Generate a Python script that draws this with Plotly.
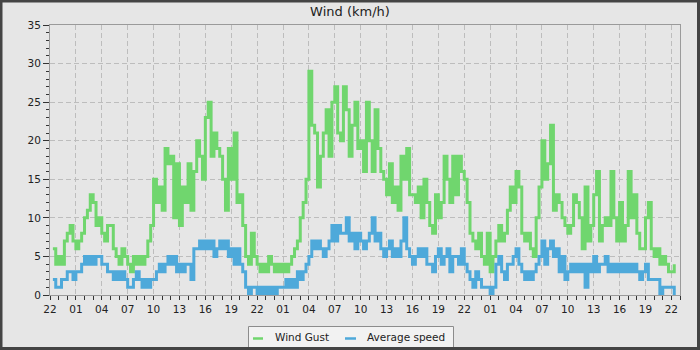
import pandas as pd
import plotly.graph_objects as go

# ---------------- data (km/h), 20-minute readings from 22:20 ----------------
start_time = "2024-01-01 22:20"
step = "20min"

gust = [
    6, 4,            # 22h
    5, 4, 7,         # 23
    8, 9, 7,         # 00
    6, 7, 8,         # 01
    10, 11, 13,      # 02
    12, 9, 10,       # 03
    8, 7, 9,         # 04
    9, 6, 5,         # 05
    4, 6, 5,         # 06
    4, 3, 5,         # 07
    4, 5, 4,         # 08
    5, 7, 9,         # 09
    15, 12, 14,      # 10
    11, 19, 17,      # 11
    18, 10, 17,      # 12
    9, 14, 12,       # 13
    17, 11, 16,      # 14
    20, 18, 15,      # 15
    23, 25, 18,      # 16
    21, 19, 18,      # 17
    15, 11, 19,      # 18
    15, 21, 12,      # 19
    13, 9, 5,        # 20
    4, 8, 5,         # 21
    4, 3, 4,         # 22
    3, 5, 4,         # 23
    3, 4, 3,         # 00
    4, 3, 4,         # 01
    5, 6, 7,         # 02
    10, 12, 15,      # 03
    29, 22, 21,      # 04
    14, 18, 21,      # 05
    24, 18, 25,      # 06
    27, 21, 20,      # 07
    27, 24, 18,      # 08
    22, 25, 19,      # 09
    20, 16, 25,      # 10
    20, 16, 24,      # 11
    19, 16, 15,      # 12
    13, 17, 12,      # 13
    14, 11, 18,      # 14
    15, 19, 13,      # 15
    13, 12, 14,      # 16
    10, 15, 12,      # 17
    9, 8, 13,        # 18
    10, 12, 18,      # 19
    15, 12, 18,      # 20
    13, 18, 16,      # 21
    15, 12, 8,       # 22
    7, 6, 8,         # 23
    5, 4, 8,         # 00
    3, 5, 7,         # 01
    9, 7, 8,         # 02
    11, 14, 12,      # 03
    16, 14, 8,       # 04
    7, 8, 6,         # 05
    5, 10, 14,       # 06
    20, 15, 17,      # 07
    22, 11, 13,      # 08
    12, 10, 9,       # 09
    8, 9, 13,        # 10
    12, 10, 6,       # 11
    14, 7, 9,        # 12
    13, 16, 7,       # 13
    9, 10, 9,        # 14
    16, 10, 7,       # 15
    12, 7, 9,        # 16
    16, 10, 13,      # 17
    8, 6, 6,         # 18
    10, 12, 6,       # 19
    5, 6, 4,         # 20
    5, 4, 3,         # 21
    3, 4,            # 22
]

average = [
    2, 1,            # 22h
    1, 2, 2,         # 23
    3, 3, 2,         # 00
    3, 3, 4,         # 01
    5, 4, 5,         # 02
    4, 5, 5,         # 03
    4, 4, 3,         # 04
    3, 2, 3,         # 05
    2, 3, 2,         # 06
    1, 1, 2,         # 07
    3, 2, 1,         # 08
    2, 1, 2,         # 09
    2, 3, 4,         # 10
    3, 4, 5,         # 11
    4, 5, 3,         # 12
    4, 3, 4,         # 13
    4, 2, 6,         # 14
    6, 7, 6,         # 15
    7, 6, 7,         # 16
    5, 6, 7,         # 17
    6, 7, 5,         # 18
    6, 4, 6,         # 19
    4, 3, 1,         # 20
    0, 1, 1,         # 21
    0, 1, 0,         # 22
    1, 0, 1,         # 23
    0, 1, 1,         # 00
    1, 2, 1,         # 01
    2, 1, 3,         # 02
    2, 3, 4,         # 03
    5, 7, 6,         # 04
    7, 6, 5,         # 05
    6, 7, 9,         # 06
    7, 9, 8,         # 07
    8, 10, 7,        # 08
    8, 6, 8,         # 09
    7, 6, 7,         # 10
    8, 10, 7,        # 11
    8, 6, 5,         # 12
    6, 7, 5,         # 13
    6, 5, 7,         # 14
    10, 6, 5,        # 15
    4, 5, 6,         # 16
    5, 6, 4,         # 17
    4, 3, 5,         # 18
    6, 4, 5,         # 19
    6, 3, 5,         # 20
    5, 4, 6,         # 21
    4, 3, 2,         # 22
    1, 3, 2,         # 23
    1, 1, 1,         # 00
    0, 1, 4,         # 01
    5, 3, 2,         # 02
    4, 4, 5,         # 03
    6, 4, 3,         # 04
    2, 3, 2,         # 05
    3, 4, 5,         # 06
    7, 4, 6,         # 07
    7, 5, 6,         # 08
    3, 5, 2,         # 09
    3, 4, 3,         # 10
    4, 3, 4,         # 11
    1, 4, 3,         # 12
    5, 3, 4,         # 13
    4, 5, 3,         # 14
    4, 3, 4,         # 15
    3, 4, 3,         # 16
    4, 3, 4,         # 17
    3, 2, 3,         # 18
    4, 2, 2,         # 19
    2, 2, 0,         # 20
    1, 1, 1,         # 21
    1, 0,            # 22
]

series_names = ["Wind Gust", "Average speed"]
title_text = "Wind (km/h)"
x_start = "2024-01-01 22:00"
x_end = "2024-01-04 23:00"
y_max = 35

times = pd.date_range(start_time, periods=len(gust), freq=step)

# ---------------- style ----------------
W, H = 700, 350
ML, MR, MT, MB = 50, 20, 25, 55
PW, PH = W - ML - MR, H - MT - MB
BG = "#e6e6e6"
GREEN = "#70d66e"
BLUE = "#4ea9da"
FONT = "DejaVu Sans"
LW = 3


def px(x):
    return (x - ML) / PW


def py(y):
    return (H - MB - y) / PH


fig = go.Figure()
fig.add_trace(go.Scatter(x=times, y=gust, mode="lines", line=dict(color=GREEN, width=LW, shape="hv"),
                         name=series_names[0], showlegend=False))
fig.add_trace(go.Scatter(x=times, y=average, mode="lines", line=dict(color=BLUE, width=LW, shape="hv"),
                         name=series_names[1], showlegend=False))

axis_common = dict(showline=True, linecolor="#9a9a9a", linewidth=1, mirror=True,
                   showgrid=True, gridcolor="#bdbdbd", griddash="5px,3px", gridwidth=1,
                   ticks="outside", tickcolor="#333", ticklen=4, zeroline=False,
                   tickfont=dict(family=FONT, size=10.5, color="#222"))

fig.update_layout(
    width=W, height=H,
    margin=dict(l=ML, r=MR, t=MT, b=MB, pad=0),
    paper_bgcolor=BG, plot_bgcolor=BG,
    font=dict(family=FONT, color="#222"),
    title=dict(text=title_text, x=0.5, xref="container", xanchor="center",
               y=1 - 11 / H, yref="container", yanchor="middle",
               font=dict(family=FONT, size=13, color="#222")),
    xaxis=dict(type="date", range=[x_start, x_end], tickformat="%H",
               tick0=x_start, dtick=3 * 3600 * 1000,
               minor=dict(dtick=3600 * 1000, ticks="outside", ticklen=4, tickcolor="#333", showgrid=False),
               **axis_common),
    yaxis=dict(range=[0, y_max], dtick=5, tick0=0,
               minor=dict(dtick=1, ticks="outside", ticklen=3, tickcolor="#333", showgrid=False),
               **axis_common),
    showlegend=False,
)
fig.update_yaxes(ticklen=6)

# outer dark frame
fig.add_shape(type="rect", xref="paper", yref="paper",
              x0=px(1), x1=px(W - 1.5), y0=py(H - 1.5), y1=py(1),
              line=dict(color="#444444", width=3), fillcolor="rgba(0,0,0,0)", layer="above")

# legend box (manual)
fig.add_shape(type="rect", xref="paper", yref="paper",
              x0=px(248.5), x1=px(453.5), y0=py(347.5), y1=py(326.5),
              line=dict(color="#8c8c8c", width=1), fillcolor="#f2f2f2", layer="below")
legend_items = [(253, 263, 273, GREEN, series_names[0]), (345, 356, 365, BLUE, series_names[1])]
for x0, x1, xt, col, name in legend_items:
    fig.add_shape(type="line", xref="paper", yref="paper",
                  x0=px(x0), x1=px(x1), y0=py(338.5), y1=py(338.5),
                  line=dict(color=col, width=2.5))
    fig.add_annotation(xref="paper", yref="paper", x=px(xt), y=py(337),
                       text=name, showarrow=False, xanchor="left", yanchor="middle",
                       font=dict(family=FONT, size=10.5, color="#222"))

fig.write_html("out.html")
